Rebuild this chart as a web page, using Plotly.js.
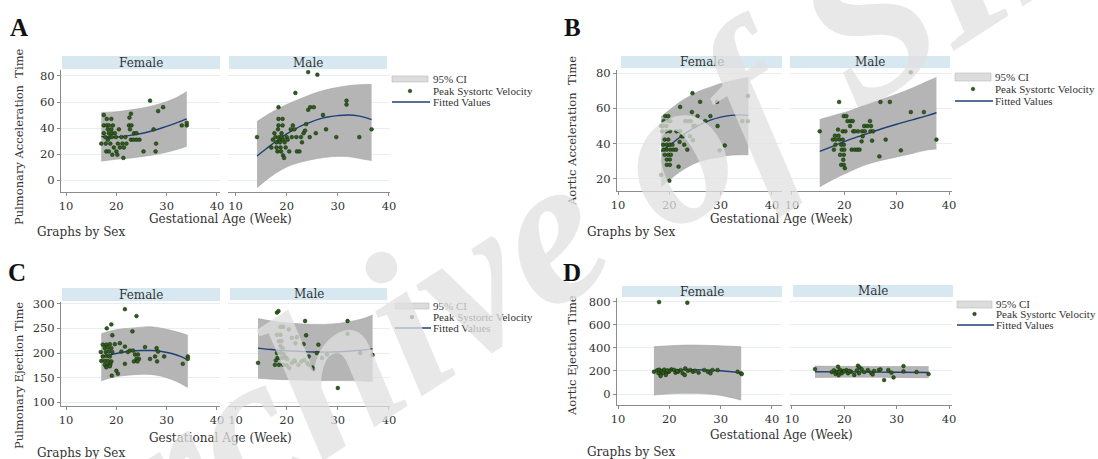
<!DOCTYPE html>
<html><head><meta charset="utf-8">
<script src="https://cdn.plot.ly/plotly-3.0.1.min.js"></script>
<style>html,body{margin:0;padding:0;background:#fff}#chart{width:1098px;height:459px}</style>
</head><body><div id="chart"></div>
<script>
// ---------------- data ----------------
const xTicks = [10, 20, 30, 40];
const xTickText = ['10', '20', '30', '40'];
const sexLabels = ['Female', 'Male'];
const xTitle = 'Gestational Age (Week)';
const byNote = 'Graphs by Sex';
const panelLetters = ['A', 'B', 'C', 'D'];
const yTitles = ['Pulmonary Acceleration  Time', 'Aortic Acceleration  Time', 'Pulmonary Ejection Time', 'Aortic Ejection Time'];
const yTicksA = [0, 20, 40, 60, 80];
const yTicksB = [20, 40, 60, 80];
const yTicksC = [100, 150, 200, 250, 300];
const yTicksD = [0, 200, 400, 600, 800];
const legendLabels = ['95% CI', 'Peak Systortc Velocity', 'Fitted Values'];

// A: Pulmonary acceleration time
const aFemX = [17.0,17.5,17.5,17.5,17.8,17.9,18.0,18.1,18.1,18.3,18.3,18.5,18.5,18.5,18.7,18.8,19.0,19.0,19.1,19.1,19.2,19.3,19.5,19.7,19.9,20.0,20.2,20.3,20.5,20.7,21.0,21.2,21.4,21.5,21.8,22.0,22.6,22.9,22.5,23.0,22.7,23.5,24.0,22.9,23.4,24.0,24.6,25.4,26.7,27.4,27.9,27.8,28.3,29.3,33.0,34.0,34.0];
const aFemY = [28,50,42,36,33,28,22,42,47,39,31,42,36,22,33,28,47,39,36,33,19.5,42,25,36,33,22,19.5,28,39,25,33,28,17,25,33,28,48,51,42,42,39,36,36,31,31,31,31,22,61,39,28,22,53,56,42,42,44];
const aFemFitX = [17,19,21,23,25,27,29,31,33,34];
const aFemFitY = [33.5,33,33.3,34.5,35.8,37.7,40,42.6,45.5,47];
const aFemCiX = [17,20,23,26,29,32,34];
const aFemCiHi = [52,52.5,54,56,59,63.5,68];
const aFemCiLo = [14.5,16,17,18.5,20.5,23.5,26];

const aMalX = [14.2,17.0,17.3,17.6,17.8,18.0,18.0,18.2,18.3,18.4,18.4,18.4,18.5,18.6,18.7,18.8,18.9,19.0,19.0,19.2,19.2,19.3,19.3,19.5,19.6,19.8,20.0,20.2,20.5,20.8,21.0,21.2,21.5,21.7,21.9,22.0,22.5,22.8,23.0,23.3,23.6,23.8,24.2,24.5,24.6,25.3,25.7,24.2,26.0,27.1,27.7,29.7,31.7,31.7,34.2,36.6];
const aMalY = [33,25,31,36,33,29,25,22,39,56,47,42,33,31,29,25,22,36,33,47,42,31,19,17,29,25,33,31,22,39,33,42,39,67,33,22,22,33,29,36,38,43,54,33,56,56,36,83,81,50,39,33,61,58,33,39];
const aMalFitX = [14.2,16,18,20,22,24,26,28,30,32,34,36.6];
const aMalFitY = [18.5,24,30,35.5,40,43.5,46.5,48.5,49.5,50,49.3,46.5];
const aMalCiX = [14.2,17,20,23,26,29,32,35,36.6];
const aMalCiHi = [45,52,58,63,67.5,70.5,72.5,73.5,73.5];
const aMalCiLo = [-6,3,10,14,16.5,18,18,16,15];

// B: Aortic acceleration time
const bFemX = [18.4,19.2,19.8,18.9,19.8,20.2,18.7,19.4,18.6,19.4,20.1,19.1,19.8,18.8,19.5,20.1,20.6,18.9,19.5,20.2,20.8,21.3,19.1,19.8,20.3,19.5,20.1,19.5,20.1,18.4,20.0,21.8,22.1,21.4,22.1,22.4,22.7,22.0,23.1,23.7,24.2,24.5,24.4,24.7,25.0,23.5,22.9,26.0,25.5,27.0,28.0,29.3,29.4,29.8,30.8,34.2,35.3,35.3,24.0,24.6];
const bFemY = [50,55.6,55.6,52.8,52.8,52.8,50,50,47,47,47,42.3,42.3,39.4,39.4,39.4,39.4,36.6,36.6,36.6,36.6,36.6,33.7,33.7,33.7,31,31,28,28,22.3,19,27,60.8,47,47,44.2,44.2,41,52.8,52.8,52.8,68.6,57.9,50,50,36.6,39.4,63.7,55.6,52.8,55.6,63.7,50,36.2,39,52.8,52.8,67,44.2,42];
const bFemFitX = [18.4,20,22,24,26,28,30,32,34,35.4];
const bFemFitY = [35.6,39,43.5,47.5,50.8,53.3,55,56,56.3,56];
const bFemCiX = [18.4,20,22,24,26,28,30,32,35.4];
const bFemCiHi = [55.2,59,63.5,67,70,72,74,75.5,77.5];
const bFemCiLo = [15.6,19.5,24,27.5,30,31.5,32.5,33.5,33.7];

const bMalX = [15.3,19.0,17.8,18.4,19.1,19.7,18.2,18.9,19.9,20.4,20.6,21.1,21.7,21.2,21.6,19.7,20.2,19.4,19.9,19.5,20.0,19.2,19.9,19.8,19.4,19.9,20.1,21.4,22.0,22.5,22.9,22.0,22.6,23.4,23.9,23.5,23.3,23.8,24.4,25.1,24.9,25.0,25.5,25.3,26.9,28.7,26.7,27.9,30.8,32.7,32.7,35.2,37.6,18.8,18.3,18.0];
const bMalY = [47,63.6,42.3,42.3,42.3,42.3,44.5,44.5,55.6,55.6,52.8,50,47,52.8,52.8,47,47,39.4,39.4,36.6,36.6,33.7,33.7,30.9,28,28,26.1,36.6,36.6,36.6,36.6,47,47,47,47,44.2,41.3,50,50,50,52.8,47,47,41.7,63.6,63.6,32.8,42.3,36.2,80.4,57.9,57.9,42.3,48,39.4,36.6];
const bMalFitX = [15.3,18,21,24,27,30,33,36,37.6];
const bMalFitY = [35.6,38.8,42.3,45.3,48.3,51,53.5,56,57.5];
const bMalCiX = [15.3,18,21,24,27,30,33,36,37.6];
const bMalCiHi = [53.7,56,58.5,62,65,68,71.5,75.5,77.5];
const bMalCiLo = [15.6,20,24.2,28,30.5,32.5,34.5,36.5,37];

// C: Pulmonary ejection time
const cFemX = [21.7,24.0,18.1,19.0,19.2,23.2,17.3,18.0,18.7,19.7,17.7,18.3,19.0,16.9,17.9,18.5,19.2,17.3,18.0,18.7,17.0,17.7,18.3,19.0,17.7,18.3,18.8,18.0,18.7,19.1,20.0,20.3,20.7,21.7,21.0,22.3,22.7,21.7,23.3,23.7,24.3,24.0,24.5,23.5,24.2,25.7,26.7,27.7,28.0,28.3,28.1,29.5,33.2,34.2,34.2];
const cFemY = [289,275,250,258,236,244,217,217,218,218,210,211,210,202,202,203,202,193,194,193,184,184,184,183,176,176,177,171,173,154,164,158,220,213,203,202,205,178,205,197,197,188,188,183,183,212,188,193,210,203,183,193,178,193,188];
const cFemFitX = [17,19,21,23,25,27,29,31,33,34.2];
const cFemFitY = [192,197,201,204,205,205,203,199,192,186];
const cFemCiX = [17,19,21.3,23.5,25.7,28,30,32,34.2];
const cFemCiHi = [239,245,249,251,253,252,248,243,236];
const cFemCiLo = [143.5,150,154,156,157,155,150,142,130];

const cMalX = [14.4,18.1,18.4,23.6,31.9,31.9,30.0,18.8,19.3,18.1,18.8,20.4,21.0,22.0,21.7,23.3,23.8,18.5,19.0,18.8,19.2,18.1,18.8,19.4,18.2,18.8,19.3,19.8,20.1,17.7,18.5,19.3,20.0,21.0,21.6,22.3,22.9,23.4,24.3,25.0,25.2,24.0,24.3,26.2,26.9,25.9,27.9,34.4,36.8,20.5,21.5,17.9];
const cMalY = [180,282,285,265,265,239,129,253,253,237,237,248,231,232,220,218,236,224,224,214,210,200,200,198,190,190,190,191,188,176,176,176,175,180,183,176,183,186,193,171,168,180,176,217,190,200,197,200,196,170,185,185];
const cMalFitX = [14.4,17,20,23,26,29,32,35,36.8];
const cMalFitY = [210,207,204.5,203,202,202,203.5,206,209];
const cMalCiX = [14.4,17,20,23,26,29,32,35,36.8];
const cMalCiHi = [270,265,261,259,258,259,263,270,277];
const cMalCiLo = [149,147,146,145,144,144,144,143,142];

// D: Aortic ejection time
const dFemX = [18.0,23.5,17.0,17.6,18.0,18.5,19.0,17.9,18.4,18.8,19.4,18.3,19.3,19.9,20.4,20.9,21.2,21.7,22.2,22.6,23.0,23.1,23.6,24.1,24.6,25.0,25.7,26.8,27.5,28.0,28.4,29.4,33.3,34.0,34.1,20.0,21.5,19.6];
const dFemY = [797,791,193,205,211,200,211,180,175,186,180,156,165,193,213,210,185,193,208,179,165,222,202,208,193,202,185,208,193,179,208,208,193,179,173,200,200,205];
const dFemFitX = [17,19,21,23,25,27,29,31,33,34];
const dFemFitY = [195,203,208,210,210,208,204,198,190,184];
const dFemCiX = [17,20,23.6,27,30,34];
const dFemCiHi = [410,418,424,422,418,410];
const dFemCiLo = [-9,2,6,2,-12,-52];

const dMalX = [14.4,18.8,22.6,22.9,31.3,31.3,27.6,29.4,33.8,36.1,17.6,18.0,18.3,18.6,18.9,19.2,19.5,19.8,20.4,20.7,21.3,21.9,22.4,22.8,23.3,23.8,24.5,25.1,25.4,25.7,26.6,26.9,28.4,29.0,19.0,20.0,21.0];
const dMalY = [216,237,245,231,242,196,121,144,191,173,190,205,175,193,163,210,180,200,208,180,193,165,205,180,215,190,208,185,170,200,208,213,208,185,190,196,200];
const dMalFitX = [14.4,20,25,30,36.1];
const dMalFitY = [193,192,190.5,189,187];
const dMalCiX = [14.4,20,25,30,36.1];
const dMalCiHi = [242,240,239,238,238];
const dMalCiLo = [144,146,146,144,140];

// ---------------- layout helpers ----------------
const W = 1098, H = 459;
const fx = p => p / W, fy = p => 1 - p / H;
const SERIF = 'DejaVu Serif, Liberation Serif, serif';
const C = {
  strip: '#d7e8f1', grid: '#e8edf1', axis: '#8c8c8c', band: '#b5b5b5', bandEdge: '#a4a4a4',
  fit: '#1f3f77', dot: '#2e5d1d', dotEdge: '#14290b', text: '#333333'
};

const panels = [
  {xd:[61,220], yd:[70,192], xr:[9.0,40.6], yr:[-9.2,84.6], yt:yTicksA, left:true,
   sx:aFemX, sy:aFemY, fX:aFemFitX, fY:aFemFitY, cX:aFemCiX, cH:aFemCiHi, cL:aFemCiLo, strip:[62,220,56,69], lab:sexLabels[0]},
  {xd:[228,390], yd:[70,192], xr:[8.53,40.2], yr:[-9.2,84.6], yt:yTicksA, left:false,
   sx:aMalX, sy:aMalY, fX:aMalFitX, fY:aMalFitY, cX:aMalCiX, cH:aMalCiHi, cL:aMalCiLo, strip:[229,387,56,69], lab:sexLabels[1]},
  {xd:[617,782], yd:[70,191], xr:[9.8,41.95], yr:[13.2,81.7], yt:yTicksB, left:true,
   sx:bFemX, sy:bFemY, fX:bFemFitX, fY:bFemFitY, cX:bFemCiX, cH:bFemCiHi, cL:bFemCiLo, strip:[621,782,56,68], lab:sexLabels[0]},
  {xd:[790,952], yd:[70,191], xr:[9.62,40.57], yr:[13.2,81.7], yt:yTicksB, left:false,
   sx:bMalX, sy:bMalY, fX:bMalFitX, fY:bMalFitY, cX:bMalCiX, cH:bMalCiHi, cL:bMalCiLo, strip:[790,950,56,68], lab:sexLabels[1]},
  {xd:[61,220], yd:[302,406], xr:[9.0,40.6], yr:[92.5,303.5], yt:yTicksC, left:true,
   sx:cFemX, sy:cFemY, fX:cFemFitX, fY:cFemFitY, cX:cFemCiX, cH:cFemCiHi, cL:cFemCiLo, strip:[62,220,288,301], lab:sexLabels[0]},
  {xd:[228,390], yd:[302,406], xr:[8.53,40.2], yr:[92.5,303.5], yt:yTicksC, left:false,
   sx:cMalX, sy:cMalY, fX:cMalFitX, fY:cMalFitY, cX:cMalCiX, cH:cMalCiHi, cL:cMalCiLo, strip:[230,387,288,300], lab:sexLabels[1]},
  {xd:[617,782], yd:[298,405], xr:[9.8,41.95], yr:[-95,832], yt:yTicksD, left:true,
   sx:dFemX, sy:dFemY, fX:dFemFitX, fY:dFemFitY, cX:dFemCiX, cH:dFemCiHi, cL:dFemCiLo, strip:[622,782,286,297], lab:sexLabels[0]},
  {xd:[790,952], yd:[298,405], xr:[9.62,40.57], yr:[-95,832], yt:yTicksD, left:false,
   sx:dMalX, sy:dMalY, fX:dMalFitX, fY:dMalFitY, cX:dMalCiX, cH:dMalCiHi, cL:dMalCiLo, strip:[793,953,285,297], lab:sexLabels[1]}
];

const traces = [];
const layout = {
  width: W, height: H, margin: {l:0, r:0, t:0, b:0},
  paper_bgcolor: '#ffffff', plot_bgcolor: '#ffffff', showlegend: false,
  shapes: [], annotations: []
};

panels.forEach((p, i) => {
  const n = i + 1, xa = 'x' + (n === 1 ? '' : n), ya = 'y' + (n === 1 ? '' : n);
  layout['xaxis' + (n === 1 ? '' : n)] = {
    domain: [fx(p.xd[0]), fx(p.xd[1])], range: p.xr, anchor: ya,
    tickvals: xTicks, ticktext: xTickText, ticks: 'outside', ticklen: 3, tickcolor: C.axis,
    showline: true, linecolor: C.axis, linewidth: 1, showgrid: false, zeroline: false,
    tickfont: {family: SERIF, size: 11.5, color: C.text}, fixedrange: true
  };
  layout['yaxis' + (n === 1 ? '' : n)] = {
    domain: [fy(p.yd[1]), fy(p.yd[0])], range: p.yr, anchor: xa,
    tickvals: p.yt, ticks: p.left ? 'outside' : '', ticklen: 3, tickcolor: C.axis,
    showticklabels: p.left, showline: p.left, linecolor: C.axis, linewidth: 1,
    showgrid: true, gridcolor: C.grid, gridwidth: 1, zeroline: false,
    tickfont: {family: SERIF, size: 11.5, color: C.text}, fixedrange: true
  };
  traces.push({x: p.cX, y: p.cL, xaxis: xa, yaxis: ya, type: 'scatter', mode: 'lines',
    line: {color: C.bandEdge, width: 0.6, shape: 'spline'}, hoverinfo: 'skip'});
  traces.push({x: p.cX, y: p.cH, xaxis: xa, yaxis: ya, type: 'scatter', mode: 'lines', fill: 'tonexty',
    fillcolor: C.band, line: {color: C.bandEdge, width: 0.6, shape: 'spline'}, hoverinfo: 'skip'});
  traces.push({x: p.fX, y: p.fY, xaxis: xa, yaxis: ya, type: 'scatter', mode: 'lines',
    line: {color: C.fit, width: 1.4, shape: 'spline'}});
  traces.push({x: p.sx, y: p.sy, xaxis: xa, yaxis: ya, type: 'scatter', mode: 'markers',
    marker: {color: C.dot, size: 3.8, line: {color: C.dotEdge, width: 0.5}}});
  const s = p.strip;
  layout.shapes.push({type: 'rect', xref: 'paper', yref: 'paper', x0: fx(s[0]), x1: fx(s[1]), y0: fy(s[3]), y1: fy(s[2]),
    fillcolor: C.strip, line: {width: 0}, layer: 'below'});
  layout.annotations.push({text: p.lab, xref: 'paper', yref: 'paper', x: fx((s[0] + s[1]) / 2), y: fy((s[2] + s[3]) / 2),
    showarrow: false, xanchor: 'center', yanchor: 'middle', font: {family: SERIF, size: 12, color: C.text}});
});

const blocks = [
  {letter:[19,27], yT:[19,137], xT:[220,219], note:[81,232], leg:{x0:392, x1:428, box:[76,82], rows:[79,91,102], tx:431}},
  {letter:[572,27], yT:[572,131], xT:[781,219], note:[631,232], leg:{x0:955, x1:991, box:[73,81], rows:[77,89,101], tx:993}},
  {letter:[17,272], yT:[19,376], xT:[220,438], note:[81,453], leg:{x0:395, x1:429, box:[303,309], rows:[306,317,328], tx:431}},
  {letter:[572,272], yT:[572,356], xT:[781,435], note:[631,452], leg:{x0:957, x1:992, box:[301,308], rows:[304,314,325], tx:994}}
];
blocks.forEach((b, i) => {
  const A = layout.annotations, S = layout.shapes;
  A.push({text: '<b>' + panelLetters[i] + '</b>', xref: 'paper', yref: 'paper', x: fx(b.letter[0]), y: fy(b.letter[1]),
    showarrow: false, xanchor: 'center', yanchor: 'middle', font: {family: 'Liberation Serif, serif', size: 25, color: '#111'}});
  A.push({text: yTitles[i], xref: 'paper', yref: 'paper', x: fx(b.yT[0]), y: fy(b.yT[1]), textangle: -90,
    showarrow: false, xanchor: 'center', yanchor: 'middle', font: {family: SERIF, size: 11.5, color: C.text}});
  A.push({text: xTitle, xref: 'paper', yref: 'paper', x: fx(b.xT[0]), y: fy(b.xT[1]),
    showarrow: false, xanchor: 'center', yanchor: 'middle', font: {family: SERIF, size: 12, color: C.text}});
  A.push({text: byNote, xref: 'paper', yref: 'paper', x: fx(b.note[0]), y: fy(b.note[1]),
    showarrow: false, xanchor: 'center', yanchor: 'middle', font: {family: SERIF, size: 12, color: C.text}});
  const L = b.leg;
  S.push({type: 'rect', xref: 'paper', yref: 'paper', x0: fx(L.x0), x1: fx(L.x1), y0: fy(L.box[1]), y1: fy(L.box[0]),
    fillcolor: '#dcdcdc', line: {color: '#bdbdbd', width: 0.6}});
  const mx = (L.x0 + L.x1) / 2;
  S.push({type: 'circle', xref: 'paper', yref: 'paper', x0: fx(mx - 1.8), x1: fx(mx + 1.8), y0: fy(L.rows[1] + 1.8), y1: fy(L.rows[1] - 1.8),
    fillcolor: C.dot, line: {color: C.dotEdge, width: 0.5}});
  S.push({type: 'line', xref: 'paper', yref: 'paper', x0: fx(L.x0), x1: fx(L.x1 + 2), y0: fy(L.rows[2]), y1: fy(L.rows[2]),
    line: {color: C.fit, width: 1.4}});
  legendLabels.forEach((t, k) => {
    A.push({text: t, xref: 'paper', yref: 'paper', x: fx(L.tx), y: fy(L.rows[k]), showarrow: false,
      xanchor: 'left', yanchor: 'middle', font: {family: 'Liberation Serif, serif', size: 11, color: C.text}});
  });
});

layout.annotations.push({text: 'Archive of SID', xref: 'paper', yref: 'paper', x: fx(560), y: fy(222), textangle: -33,
  showarrow: false, xanchor: 'center', yanchor: 'middle',
  font: {family: 'Liberation Serif, serif', size: 210, color: 'rgba(224,224,224,0.75)', weight: 700, style: 'italic'}});

Plotly.newPlot('chart', traces, layout, {staticPlot: true, displayModeBar: false});
</script></body></html>
